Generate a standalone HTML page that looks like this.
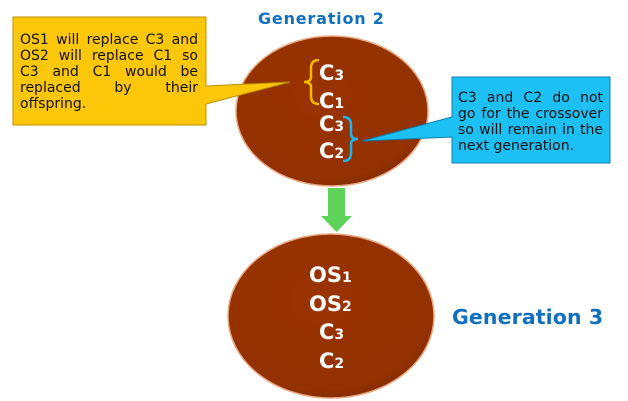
<!DOCTYPE html>
<html><head><style>
body{margin:0;background:#fff;width:628px;height:401px;overflow:hidden;position:relative}
.t{position:absolute;font-size:14px;line-height:16px;color:#111;font-family:"DejaVu Sans","Liberation Sans",sans-serif}
.t div{text-align:justify;text-align-last:justify;white-space:nowrap}
.t div.l{text-align-last:left}
</style></head><body>
<svg width="628" height="401" style="position:absolute;left:0;top:0">
<defs>
<radialGradient id="g" cx="45%" cy="40%" r="65%"><stop offset="0" stop-color="#993300"/><stop offset="0.85" stop-color="#933100"/><stop offset="1" stop-color="#7e2a02"/></radialGradient>
</defs>
<ellipse cx="332" cy="111" rx="96" ry="75" fill="url(#g)" stroke="#e9a77f" stroke-width="1.5"/>
<ellipse cx="331" cy="316" rx="103" ry="82" fill="url(#g)" stroke="#e9a77f" stroke-width="1.5"/>
<polygon points="328,188 345,188 345,216 352,216 336.5,232 321,216 328,216" fill="#5ed35a"/>
<polygon points="13,17 206,17 206,86 290,82 206,104 206,125 13,125" fill="#fcc708" stroke="#b89000" stroke-width="1"/>
<polygon points="452,77 610,77 610,163 452,163 452,137 362,141 452,117" fill="#1cc0f4" stroke="#0a7fb0" stroke-width="1"/>
<path d="M319,60 q-8,0 -8,8 v9 q0,5 -7,5 q7,0 7,5 v9 q0,8 8,8" fill="none" stroke="#f5b800" stroke-width="2.5"/>
<path d="M343,117 q8,0 8,8 v9 q0,5 7,5 q-7,0 -7,5 v9 q0,8 -8,8" fill="none" stroke="#1cb4f0" stroke-width="2.5"/>
<g fill="#fff" font-family="'DejaVu Sans',sans-serif" font-weight="bold" font-size="21">
<text x="319" y="80">C<tspan font-size="14">3</tspan></text>
<text x="319" y="108">C<tspan font-size="14">1</tspan></text>
<text x="319" y="131">C<tspan font-size="14">3</tspan></text>
<text x="319" y="158">C<tspan font-size="14">2</tspan></text>
<text x="309" y="282">OS<tspan font-size="14">1</tspan></text>
<text x="309" y="311">OS<tspan font-size="14">2</tspan></text>
<text x="319" y="339">C<tspan font-size="14">3</tspan></text>
<text x="319" y="368">C<tspan font-size="14">2</tspan></text>
</g>
<text x="258" y="24" fill="#1170be" font-weight="bold" font-size="16" letter-spacing="0.8" font-family="'DejaVu Sans',sans-serif">Generation 2</text>
<text x="452" y="324" fill="#1170be" font-weight="bold" font-size="20.5" letter-spacing="0.1" font-family="'DejaVu Sans',sans-serif">Generation 3</text>
</svg>
<div class="t" style="left:20px;top:32px;width:178px">
<div>OS1 will replace C3 and</div><div>OS2 will replace C1 so</div><div>C3 and C1 would be</div><div>replaced by their</div><div class="l">offspring.</div></div>
<div class="t" style="left:458px;top:90px;width:145px">
<div>C3 and C2 do not</div><div>go for the crossover</div><div>so will remain in the</div><div class="l">next generation.</div></div>
</body></html>
